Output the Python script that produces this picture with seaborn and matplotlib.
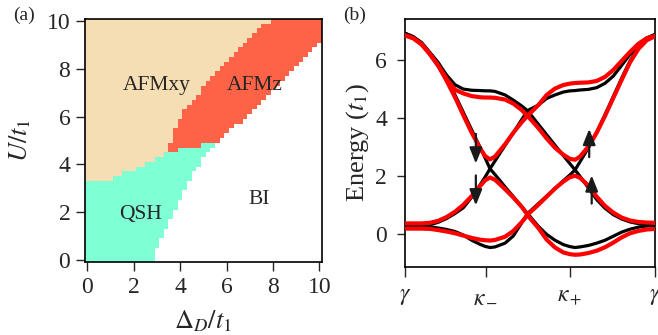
import numpy as np
import matplotlib
matplotlib.use("Agg")
import matplotlib.pyplot as plt
from matplotlib.colors import ListedColormap
import seaborn as sns

# ---- (a) phase diagram on a 0.2 grid, boundaries ----
delta_vals = np.round(np.arange(0, 10.01, 0.2), 2)
u_vals = np.round(np.arange(0, 10.01, 0.2), 2)

# QSH/AFM -> BI boundary (U below this is BI)
bi_delta = [2.8, 3.7, 4.8, 5.5, 7.0, 9.1, 10.0]
bi_u = [0.0, 2.0, 4.0, 4.9, 6.1, 8.2, 9.1]
# top of the QSH region
qsh_delta = [0.0, 1.0, 1.2, 1.8, 2.2, 2.6, 3.0, 3.4, 3.6, 4.2, 5.4]
qsh_u = [3.3, 3.3, 3.5, 3.7, 3.9, 4.1, 4.3, 4.5, 4.55, 4.7, 4.9]
# AFMxy / AFMz boundary
afmz_u = [4.5, 5.3, 6.1, 7.0, 7.8, 8.6, 9.5, 10.0]
afmz_delta = [3.5, 3.7, 4.1, 4.8, 5.4, 6.25, 7.1, 7.9]

phase_names = ["BI", "QSH", "AFMxy", "AFMz"]
phase_colors = ["white", "#7fffd4", "#f5deb3", "#ff6347"]
label_delta = [7.4, 2.3, 3.0, 7.2]
label_u = [2.5, 1.9, 7.3, 7.3]

# ---- (b) band structure along gamma - kappa_- - kappa_+ - gamma ----
k = [0.0, 0.1, 0.2, 0.3, 0.4, 0.5, 0.6, 0.7, 0.8, 0.9, 0.96, 1.02, 1.08,
     1.2, 1.3, 1.4, 1.47, 1.6, 1.7, 1.8, 1.9, 1.98, 2.04, 2.1, 2.2, 2.3,
     2.4, 2.5, 2.6, 2.7, 2.8, 2.9, 3.0]

black_bands = [
    [0.28, 0.28, 0.28, 0.26, 0.22, 0.17, 0.10, -0.02, -0.20, -0.34, -0.41, -0.45, -0.43,
     -0.30, -0.05, 0.40, 0.72, 0.28, 0.00, -0.20, -0.35, -0.42, -0.45, -0.43, -0.38, -0.30,
     -0.20, -0.06, 0.08, 0.18, 0.25, 0.29, 0.30],
    [0.28, 0.28, 0.29, 0.33, 0.42, 0.55, 0.72, 0.92, 1.28, 1.70, 1.97, 2.26, 2.06,
     1.64, 1.30, 0.96, 0.72, 1.06, 1.32, 1.58, 1.85, 2.05, 2.22, 2.00, 1.60, 1.20,
     0.90, 0.68, 0.53, 0.43, 0.37, 0.34, 0.33],
    [6.92, 6.80, 6.58, 6.25, 5.90, 5.38, 4.80, 4.20, 3.60, 3.00, 2.64, 2.26, 2.53,
     3.06, 3.50, 3.95, 4.26, 3.79, 3.43, 3.07, 2.71, 2.43, 2.22, 2.50, 2.98, 3.52,
     4.12, 4.75, 5.38, 5.97, 6.45, 6.74, 6.88],
    [6.92, 6.80, 6.60, 6.25, 5.90, 5.48, 5.15, 5.00, 4.96, 4.95, 4.94, 4.94, 4.92,
     4.80, 4.62, 4.42, 4.26, 4.45, 4.68, 4.80, 4.90, 4.94, 4.95, 4.97, 4.99, 5.05,
     5.20, 5.45, 5.82, 6.20, 6.50, 6.76, 6.88],
]
red_bands = [
    [0.20, 0.20, 0.20, 0.19, 0.15, 0.10, 0.04, -0.04, -0.12, -0.18, -0.20, -0.21, -0.19,
     -0.08, 0.12, 0.42, 0.66, 0.22, -0.18, -0.45, -0.62, -0.68, -0.70, -0.69, -0.64, -0.56,
     -0.44, -0.28, -0.10, 0.04, 0.12, 0.17, 0.19],
    [0.38, 0.38, 0.38, 0.40, 0.47, 0.60, 0.78, 1.02, 1.32, 1.66, 1.86, 1.96, 1.88,
     1.56, 1.27, 0.95, 0.68, 1.02, 1.30, 1.58, 1.82, 1.97, 2.02, 1.95, 1.68, 1.30,
     0.98, 0.75, 0.58, 0.48, 0.43, 0.41, 0.40],
    [6.85, 6.75, 6.53, 6.20, 5.80, 5.28, 4.72, 4.10, 3.50, 2.97, 2.70, 2.58, 2.68,
     3.10, 3.50, 3.86, 4.08, 3.66, 3.30, 2.98, 2.74, 2.60, 2.57, 2.68, 3.02, 3.50,
     4.08, 4.70, 5.32, 5.92, 6.38, 6.68, 6.82],
    [6.85, 6.75, 6.55, 6.20, 5.80, 5.35, 4.98, 4.85, 4.76, 4.72, 4.71, 4.71, 4.70,
     4.64, 4.50, 4.28, 4.08, 4.45, 4.80, 5.02, 5.14, 5.19, 5.21, 5.22, 5.23, 5.28,
     5.42, 5.66, 5.97, 6.28, 6.56, 6.75, 6.83],
]
k_ticks = [0.0, 0.966, 1.98, 3.0]
k_labels = [r"$\gamma$", r"$\kappa_-$", r"$\kappa_+$", r"$\gamma$"]

# spin arrows: (k, start energy, end energy)
arrow_k = [0.85, 0.85, 2.21, 2.24]
arrow_from = [3.46, 2.03, 2.66, 1.06]
arrow_to = [2.44, 1.00, 3.63, 2.03]

# ---- style ----
sns.set_style("ticks")
plt.rcParams["font.family"] = ["Liberation Serif", "DejaVu Serif"]
plt.rcParams["mathtext.fontset"] = "stix"
plt.rcParams["xtick.direction"] = "out"
plt.rcParams["ytick.direction"] = "out"
plt.rcParams["axes.linewidth"] = 1.2
plt.rcParams["axes.edgecolor"] = "black"

fs_tick = 17
fs_label = 19
fs_text = 15.5
fs_panel = 14

fig = plt.figure(figsize=(6.58, 3.35), dpi=100)
ax1 = fig.add_axes([0.129, 0.218, 0.360, 0.726])
ax2 = fig.add_axes([0.6155, 0.203, 0.380, 0.741])

# ---- panel (a) ----
D, U = np.meshgrid(delta_vals, u_vals)
phase = np.full(D.shape, 2)
phase[D > np.interp(U, afmz_u, afmz_delta)] = 3
phase[U < np.interp(D, qsh_delta, qsh_u)] = 1
phase[U < np.interp(D, bi_delta, bi_u, left=-1)] = 0

sns.heatmap(phase, cmap=ListedColormap(phase_colors), vmin=-0.5, vmax=3.5,
            cbar=False, ax=ax1, xticklabels=False, yticklabels=False)
ax1.invert_yaxis()


def cell(v):
    return v / 0.2 + 0.5


ticks = [0, 2, 4, 6, 8, 10]
ax1.set_xticks([cell(t) for t in ticks])
ax1.set_xticklabels([str(t) for t in ticks], fontsize=fs_tick)
ax1.set_yticks([cell(t) for t in ticks])
ax1.set_yticklabels([str(t) for t in ticks], fontsize=fs_tick, rotation=0)
for s in ax1.spines.values():
    s.set_visible(True)
    s.set_linewidth(1.2)
ax1.tick_params(length=6.5, width=1.0, pad=4)
ax1.set_xlabel(r"$\Delta_D/t_1$", fontsize=fs_label, labelpad=8)
ax1.set_ylabel(r"$U/t_1$", fontsize=fs_label, labelpad=10)
for name, d, u in zip(phase_names, label_delta, label_u):
    ax1.text(cell(d), cell(u), name, fontsize=fs_text, ha="center", va="center")

# ---- panel (b) ----
for band in black_bands:
    sns.lineplot(x=k, y=band, color="black", lw=2.3, ax=ax2, zorder=2)
for band in red_bands:
    sns.lineplot(x=k, y=band, color="red", lw=3.0, ax=ax2, zorder=3)
for x0, e0, e1 in zip(arrow_k, arrow_from, arrow_to):
    ax2.annotate("", xy=(x0, e1), xytext=(x0, e0), zorder=5,
                 arrowprops=dict(arrowstyle="-|>,head_length=0.95,head_width=0.38",
                                 mutation_scale=10, lw=1.6, color="#1a1a1a",
                                 shrinkA=0, shrinkB=0))
ax2.set_xlim(0, 3)
ax2.set_ylim(-1.12, 7.42)
ax2.set_xticks(k_ticks)
ax2.set_xticklabels(k_labels, fontsize=fs_tick)
ax2.set_yticks([0, 2, 4, 6])
ax2.set_yticklabels(["0", "2", "4", "6"], fontsize=fs_tick)
ax2.tick_params(axis="x", length=7, width=1.0, pad=7)
ax2.tick_params(axis="y", length=6, width=1.0, pad=7)
ax2.set_ylabel(r"Energy ($t_1$)", fontsize=fs_label, labelpad=3)

fig.text(0.02, 0.955, "(a)", fontsize=fs_panel, va="center")
fig.text(0.521, 0.955, "(b)", fontsize=fs_panel, va="center")

fig.savefig("out.png", dpi=100)
